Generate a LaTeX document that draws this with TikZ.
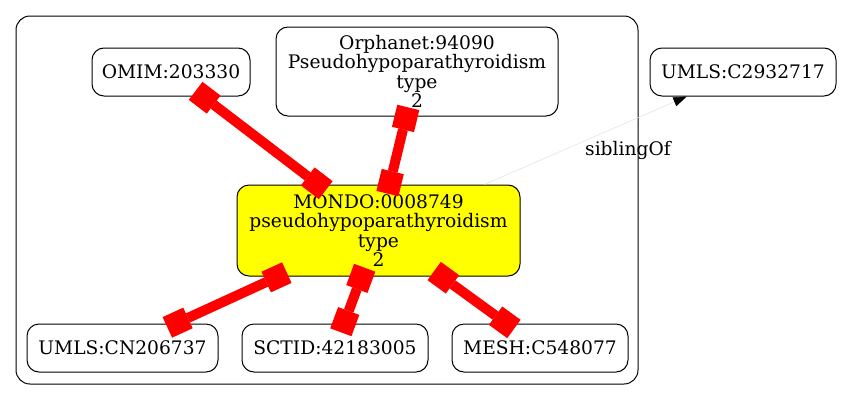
\documentclass[tikz,border=0pt]{standalone}
\usepackage{fontspec}
\setmainfont{DejaVu Serif}
\usetikzlibrary{arrows.meta}
\definecolor{hitfill}{RGB}{255,255,0}
\definecolor{xrefred}{RGB}{255,0,0}

\tikzset{
  term/.style={draw, fill=white, line width=0.75pt, rounded corners=9pt, align=center,
    inner sep=0pt, minimum height=36pt, font=\fontsize{14}{14.6}\selectfont},
  hit/.style={term, fill=hitfill},
  xref/.style={draw=xrefred, line width=7.5pt,
    {Square[length=17pt,width=17pt,line width=0pt]}-{Square[length=17pt,width=17pt,line width=0pt]},
    shorten <=-7pt, shorten >=-7pt},
  sib/.style={draw=black!12, line width=0.4pt, -{Triangle[length=10pt,width=7pt,color=black]}},
}

\begin{document}
\begin{tikzpicture}[x=0.75pt, y=-0.75pt]
  \useasboundingbox (0,0) rectangle (841,400);
  %% ── Cluster frame ────────────────────────────────────────
  \draw[rounded corners=10.5pt, line width=0.75pt] (16,16) rectangle (638,384);

  %% ── Terms ────────────────────────────────────────────────
  \node[term, minimum width=118.5pt] (omim) at (171,72) {OMIM:203330};
  \node[term, minimum width=211.5pt, minimum height=66.75pt] (orpha) at (417,71.5)
    {Orphanet:94090\\Pseudohypoparathyroidism\\type\\2};
  \node[term, minimum width=139.5pt] (umlsA) at (743,72) {UMLS:C2932717};
  \node[hit, minimum width=212.25pt, minimum height=68.25pt] (mondo) at (378.5,230.5)
    {MONDO:0008749\\pseudohypoparathyroidism\\type\\2};
  \node[term, minimum width=143.25pt] (umlsB) at (122.5,348) {UMLS:CN206737};
  \node[term, minimum width=139.5pt] (sctid) at (335,348) {SCTID:42183005};
  \node[term, minimum width=132pt] (mesh) at (540,348) {MESH:C548077};

  %% ── Cross references (both ends boxed) ───────────────────
  \foreach \n in {omim,orpha}
    \draw[xref] (\n) -- (mondo);
  \foreach \n in {umlsB,sctid,mesh}
    \draw[xref] (mondo) -- (\n);

  %% ── Sibling link ─────────────────────────────────────────
  \draw[sib] (mondo) -- (umlsA);
  \node[font=\fontsize{14}{14.6}\selectfont] (sibl) at (628,150) {siblingOf};
\end{tikzpicture}
\end{document}
